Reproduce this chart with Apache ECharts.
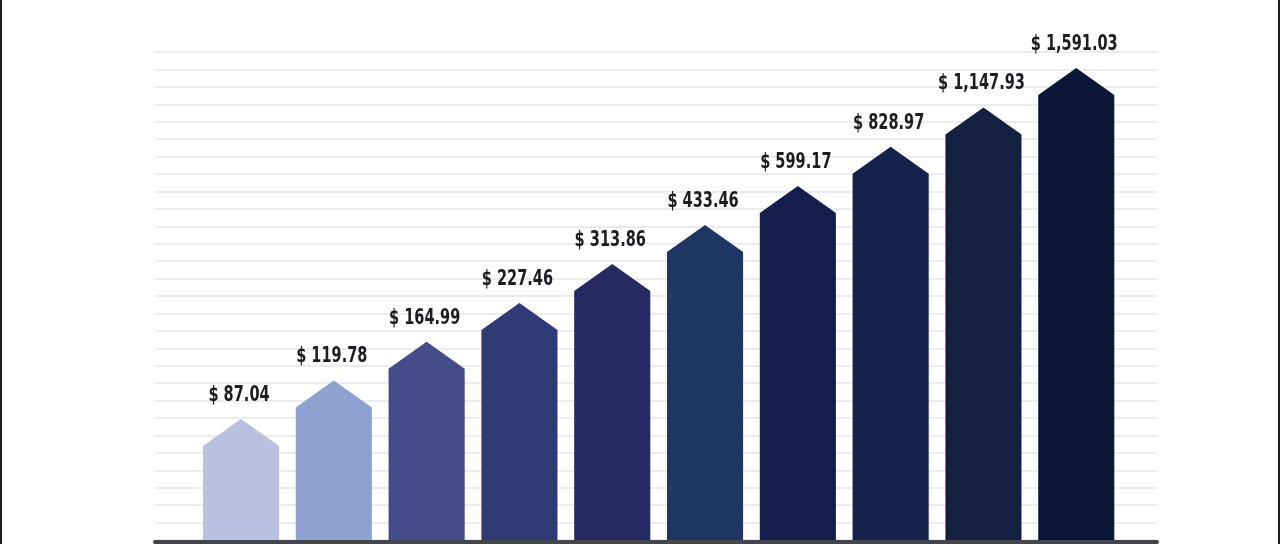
<!DOCTYPE html>
<html>
<head>
<meta charset="utf-8">
<script src="https://cdn.jsdelivr.net/npm/echarts@6/dist/echarts.min.js"></script>
<style>
  html, body { margin: 0; padding: 0; background: #ffffff; }
  #chart { width: 1280px; height: 544px; }
</style>
</head>
<body>
<div id="chart"></div>
<script>
// bar index along the x axis (no visible category labels in the picture)
var positions = [0, 1, 2, 3, 4, 5, 6, 7, 8, 9];
var values = [87.04, 119.78, 164.99, 227.46, 313.86, 433.46, 599.17, 828.97, 1147.93, 1591.03];

var bar_colors = ['#b9c0e0', '#8ea2d1', '#434b88', '#2f3b74', '#252a63',
                  '#1f3564', '#141e4c', '#15224b', '#142040', '#0a1638'];

function money(v)
{
    var parts = v.toFixed(2).split('.');
    parts[0] = parts[0].replace(/\B(?=(\d{3})+(?!\d))/g, ',');
    return '$ ' + parts.join('.');
}

var series_data = [];
for (var i = 0; i < values.length; i++) {
    series_data.push([positions[i], values[i]]);
}

function render_arrow(params, api)
{
    var idx = params.dataIndex;
    var peak = api.coord([api.value(0), api.value(1)]);
    var w = api.size([0.82, 0])[0];
    var base = params.coordSys.y + params.coordSys.height;
    var head = 27;
    var left = peak[0] - w / 2, right = peak[0] + w / 2;
    return {
        type: 'group',
        children: [
            {
                type: 'polygon',
                shape: {
                    points: [
                        [left, base], [left, peak[1] + head], [peak[0], peak[1]],
                        [right, peak[1] + head], [right, base]
                    ]
                },
                style: { fill: bar_colors[idx] }
            },
            {
                // narrow the condensed face so it reads like the tall poster font
                type: 'text',
                x: peak[0] - 2,
                y: peak[1] - 13,
                scaleX: 0.77,
                style: {
                    text: money(values[idx]),
                    fill: '#1c1c22',
                    font: 'bold 21px "Liberation Sans Narrow", "DejaVu Sans Condensed", sans-serif',
                    align: 'center',
                    verticalAlign: 'bottom'
                }
            }
        ]
    };
}

var chart = echarts.init(document.getElementById('chart'));

var option = {
    animation: false,
    backgroundColor: '#ffffff',
    grid: {
        left: 155,
        right: 123,
        top: 52,
        bottom: 4
    },
    xAxis: {
        type: 'value',
        min: -0.927,
        max: 9.87,
        offset: 2,
        axisLine: { show: true, onZero: false, lineStyle: { color: '#45454d', width: 4 } },
        axisTick: { show: false },
        axisLabel: { show: false },
        splitLine: { show: false }
    },
    yAxis: [
        {
            // values are placed on a log scale, like the arrows in the picture
            type: 'log',
            min: 31.95,
            max: 1816,
            axisLine: { show: false },
            axisTick: { show: false },
            axisLabel: { show: false },
            splitLine: { show: false }
        },
        {
            // only the evenly spaced background rules
            type: 'value',
            min: 0,
            max: 28,
            interval: 1,
            axisLine: { show: false },
            axisTick: { show: false },
            axisLabel: { show: false },
            splitLine: { show: true, lineStyle: { color: '#e6e6e8', width: 1.5 } }
        }
    ],
    graphic: [
        { type: 'line', shape: { x1: 1, y1: 0, x2: 1, y2: 544 }, style: { stroke: '#1e1e24', lineWidth: 2 } },
        { type: 'line', shape: { x1: 1279, y1: 0, x2: 1279, y2: 544 }, style: { stroke: '#1e1e24', lineWidth: 2 } }
    ],
    series: [
        {
            type: 'custom',
            yAxisIndex: 0,
            renderItem: render_arrow,
            clip: false,
            data: series_data
        }
    ]
};
chart.setOption(option);
</script>
</body>
</html>
